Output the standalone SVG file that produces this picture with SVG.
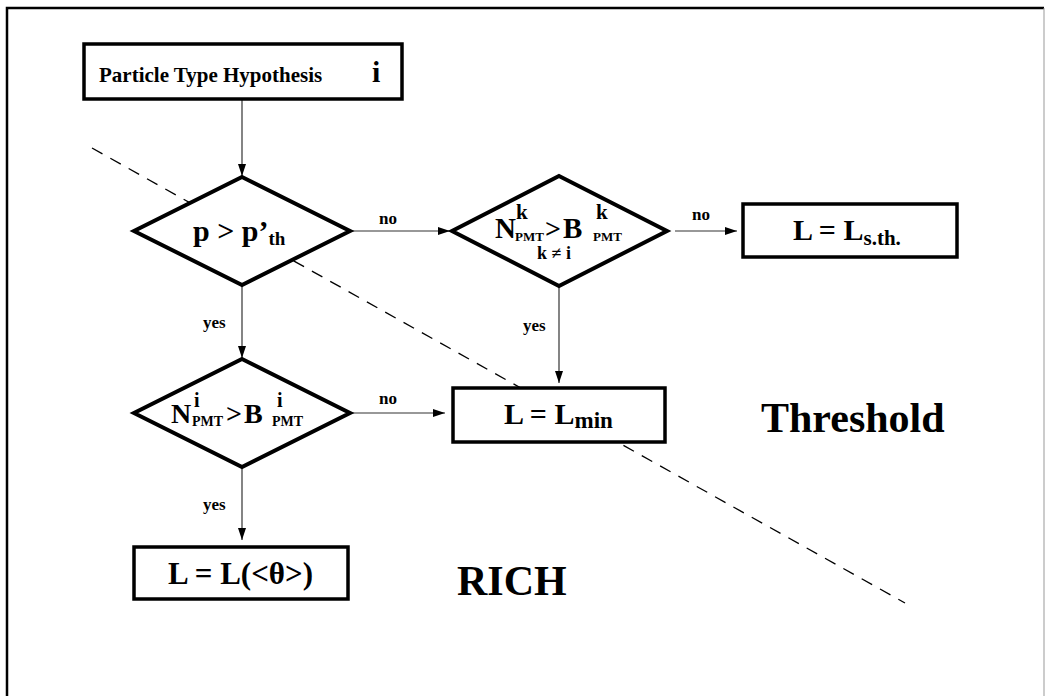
<svg xmlns="http://www.w3.org/2000/svg" width="1045" height="696" viewBox="0 0 1045 696">
  <defs>
    <marker id="arr" viewBox="0 0 12 8" refX="12" refY="4" markerWidth="12" markerHeight="8" markerUnits="userSpaceOnUse" orient="auto">
      <path d="M0,0 L12,4 L0,8 Z" fill="#000"/>
    </marker>
    <style>
      text { font-family: "Liberation Serif", "Times New Roman", serif; font-weight: bold; fill: #000; }
      .box { fill: #fff; stroke: #000; stroke-width: 3.5; }
      .dia { fill: #fff; stroke: #000; stroke-width: 4; stroke-linejoin: miter; }
      .edge { stroke: #333; stroke-width: 1.2; fill: none; marker-end: url(#arr); }
      .lbl { font-size: 17px; }
      .huge { font-size: 42px; }
    </style>
  </defs>
  <rect width="1045" height="696" fill="#fff"/>

  <!-- frame -->
  <path d="M7,696 V8 H1044" fill="none" stroke="#000" stroke-width="2.5"/>
  <line x1="1044" y1="8" x2="1044" y2="696" stroke="#999" stroke-width="1"/>

  <!-- boundary between the RICH and threshold regions -->
  <line x1="92" y1="148" x2="905" y2="603" stroke="#000" stroke-width="1.3" stroke-dasharray="12,9"/>

  <g id="connectors">
    <line class="edge" x1="242" y1="100" x2="242" y2="176"/>
    <line class="edge" x1="350" y1="231" x2="450" y2="231"/>
    <line class="edge" x1="675" y1="231" x2="737" y2="231"/>
    <line class="edge" x1="242" y1="286" x2="242" y2="358"/>
    <line class="edge" x1="559" y1="287" x2="559" y2="383"/>
    <line class="edge" x1="350" y1="413" x2="445" y2="413"/>
    <line class="edge" x1="242" y1="468" x2="242" y2="540"/>
    <text class="lbl" x="379" y="224">no</text>
    <text class="lbl" x="692" y="220">no</text>
    <text class="lbl" x="379" y="404">no</text>
    <text class="lbl" x="203" y="328">yes</text>
    <text class="lbl" x="523" y="331">yes</text>
    <text class="lbl" x="203" y="510">yes</text>
  </g>

  <g id="hypothesis">
    <rect class="box" x="84" y="44" width="318" height="55"/>
    <text x="99" y="82" font-size="21">Particle Type Hypothesis</text>
    <text x="372" y="82" font-size="30">i</text>
  </g>

  <g id="momentum-test">
    <polygon class="dia" points="242,177 350,231 242,285 134,231"/>
    <text x="193" y="241" font-size="30">p &gt; p’<tspan font-size="19" dy="4">th</tspan></text>
  </g>

  <g id="other-type-test">
    <polygon class="dia" points="559,176 667,231 559,286 452,231"/>
    <text x="495" y="238" font-size="29">N</text>
    <text x="516" y="219" font-size="21">k</text>
    <text x="515" y="241" font-size="13">PMT</text>
    <text x="545" y="238" font-size="28">&gt;</text>
    <text x="563" y="238" font-size="29">B</text>
    <text x="596" y="219" font-size="21">k</text>
    <text x="593" y="241" font-size="13">PMT</text>
    <text x="537" y="259" font-size="18">k ≠ i</text>
  </g>

  <g id="threshold-result">
    <rect class="box" x="743" y="204" width="214" height="53"/>
    <text x="793" y="240" font-size="30">L = L<tspan font-size="21" dy="5">s.th.</tspan></text>
  </g>

  <g id="signal-test">
    <polygon class="dia" points="242,359 350,413 242,467 134,413"/>
    <text x="171" y="423" font-size="28">N</text>
    <text x="194" y="407" font-size="20">i</text>
    <text x="192" y="426" font-size="14">PMT</text>
    <text x="226" y="423" font-size="28">&gt;</text>
    <text x="244" y="423" font-size="28">B</text>
    <text x="277" y="407" font-size="20">i</text>
    <text x="272" y="426" font-size="14">PMT</text>
  </g>

  <g id="minimum-result">
    <rect class="box" x="453" y="388" width="212" height="54"/>
    <text x="504" y="424" font-size="30">L = L<tspan font-size="23" dy="4">min</tspan></text>
  </g>

  <g id="rich-result">
    <rect class="box" x="134" y="547" width="214" height="52"/>
    <text x="168" y="584" font-size="31">L = L(&lt;θ&gt;)</text>
  </g>

  <text class="huge" x="761" y="432">Threshold</text>
  <text class="huge" x="457" y="595">RICH</text>
</svg>
